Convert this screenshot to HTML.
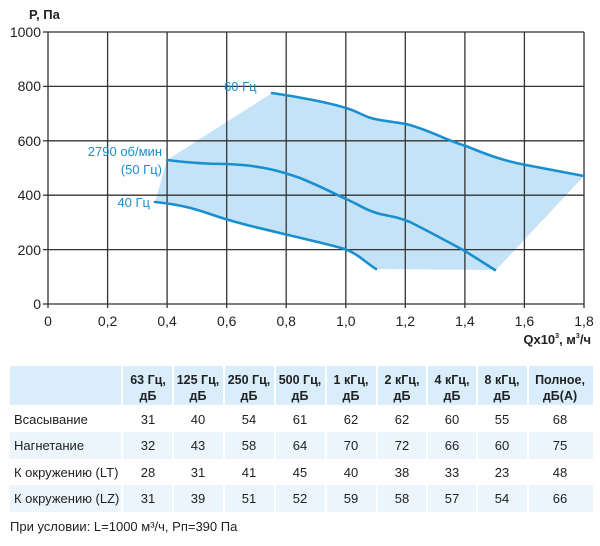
<!DOCTYPE html>
<html><head><meta charset="utf-8"><style>
html,body{margin:0;padding:0;background:#fff;width:600px;height:546px;overflow:hidden}
svg{display:block;font-family:"Liberation Sans",Arial,sans-serif}
</style></head><body>
<svg width="600" height="546" viewBox="0 0 600 546">
<path d="M155,202 L167,160 L272,93 C300,97 330,103 346,108 C360,112 365,118 380,120 L406,124 C430,130 445,140 466,146 C490,156 505,161 526,165 L584,176 L496,270 L376,269 C365,260 355,252 345,249 C320,242 300,238 280,233 C250,226 230,221 210,214 C190,207 175,204 155,202 Z" fill="#c4e3f7"/>
<g stroke="#333" stroke-width="1.3">
<line x1="48" y1="32" x2="584" y2="32"/><line x1="48" y1="86.4" x2="584" y2="86.4"/><line x1="48" y1="140.8" x2="584" y2="140.8"/><line x1="48" y1="195.2" x2="584" y2="195.2"/><line x1="48" y1="249.6" x2="584" y2="249.6"/><line x1="48" y1="304" x2="584" y2="304"/>
<line x1="48" y1="32" x2="48" y2="308"/><line x1="107.6" y1="32" x2="107.6" y2="308"/><line x1="167.1" y1="32" x2="167.1" y2="308"/><line x1="226.7" y1="32" x2="226.7" y2="308"/><line x1="286.2" y1="32" x2="286.2" y2="308"/><line x1="345.8" y1="32" x2="345.8" y2="308"/><line x1="405.3" y1="32" x2="405.3" y2="308"/><line x1="464.9" y1="32" x2="464.9" y2="308"/><line x1="524.4" y1="32" x2="524.4" y2="308"/><line x1="584" y1="32" x2="584" y2="308"/>
<line x1="43" y1="32" x2="48" y2="32"/><line x1="43" y1="86.4" x2="48" y2="86.4"/><line x1="43" y1="140.8" x2="48" y2="140.8"/><line x1="43" y1="195.2" x2="48" y2="195.2"/><line x1="43" y1="249.6" x2="48" y2="249.6"/><line x1="43" y1="304" x2="48" y2="304"/>
</g>
<g fill="none" stroke="#1a8fcf" stroke-width="2.6" stroke-linecap="round">
<path d="M272,93 C300,97 330,103 346,108 C360,112 365,118 380,120 L406,124 C430,130 445,140 466,146 C490,156 505,161 526,165 L584,176"/>
<path d="M167,160 C190,163 205,164 226,164 C260,165 280,171 300,178 C320,186 335,194 346,199 C360,205 365,210 380,214 C395,217 400,218 410,222 C430,232 450,243 465,251 L495,270"/>
<path d="M155,202 C175,204 190,207 210,214 C230,221 250,226 280,233 C300,238 320,242 345,249 C358,254 365,262 376,269"/>
</g>
<g fill="#1a8fcf" font-size="13">
<text x="224" y="91">60 Гц</text>
<text x="162" y="156" text-anchor="end">2790 об/мин</text>
<text x="162" y="174" text-anchor="end">(50 Гц)</text>
<text x="150" y="207" text-anchor="end">40 Гц</text>
</g>
<g fill="#222" font-size="14" text-anchor="end">
<text x="41" y="37">1000</text><text x="41" y="91">800</text><text x="41" y="146">600</text><text x="41" y="200">400</text><text x="41" y="255">200</text><text x="41" y="309">0</text>
</g>
<g fill="#222" font-size="14" text-anchor="middle">
<text x="48" y="326">0</text><text x="107.6" y="326">0,2</text><text x="167.1" y="326">0,4</text><text x="226.7" y="326">0,6</text><text x="286.2" y="326">0,8</text><text x="345.8" y="326">1,0</text><text x="405.3" y="326">1,2</text><text x="464.9" y="326">1,4</text><text x="524.4" y="326">1,6</text><text x="584" y="326">1,8</text>
</g>
<text x="29" y="19" font-size="13" font-weight="bold" fill="#222">P, Па</text>
<text x="591" y="344" font-size="13" font-weight="bold" fill="#222" text-anchor="end">Qx10<tspan font-size="7" dy="-6">3</tspan><tspan dy="6">, м</tspan><tspan font-size="7" dy="-6">3</tspan><tspan dy="6">/ч</tspan></text>
<rect x="10" y="366" width="583" height="40" fill="#d9edfa"/>
<rect x="10" y="432" width="583" height="27" fill="#eaf5fc"/>
<rect x="10" y="485" width="583" height="27" fill="#eaf5fc"/>
<g stroke="#fff" stroke-width="2">
<line x1="122" y1="366" x2="122" y2="512"/><line x1="173" y1="366" x2="173" y2="512"/><line x1="224" y1="366" x2="224" y2="512"/><line x1="275" y1="366" x2="275" y2="512"/><line x1="326" y1="366" x2="326" y2="512"/><line x1="377" y1="366" x2="377" y2="512"/><line x1="427" y1="366" x2="427" y2="512"/><line x1="477" y1="366" x2="477" y2="512"/><line x1="528" y1="366" x2="528" y2="512"/>
<line x1="10" y1="406" x2="593" y2="406"/>
</g>
<g fill="#222" font-size="12.5" font-weight="bold" text-anchor="middle">
<text x="148" y="384">63 Гц,</text><text x="148" y="400">дБ</text>
<text x="198" y="384">125 Гц,</text><text x="198" y="400">дБ</text>
<text x="249" y="384">250 Гц,</text><text x="249" y="400">дБ</text>
<text x="300" y="384">500 Гц,</text><text x="300" y="400">дБ</text>
<text x="351" y="384">1 кГц,</text><text x="351" y="400">дБ</text>
<text x="402" y="384">2 кГц,</text><text x="402" y="400">дБ</text>
<text x="452" y="384">4 кГц,</text><text x="452" y="400">дБ</text>
<text x="502" y="384">8 кГц,</text><text x="502" y="400">дБ</text>
<text x="560" y="384">Полное,</text><text x="560" y="400">дБ(А)</text>
</g>
<g fill="#222" font-size="13">
<text x="14" y="424">Всасывание</text>
<text x="14" y="450">Нагнетание</text>
<text x="14" y="477">К окружению (LT)</text>
<text x="14" y="503">К окружению (LZ)</text>
<text x="10" y="531">При условии: L=1000 м³/ч, Pп=390 Па</text>
</g>
<g fill="#222" font-size="13" text-anchor="middle">
<text x="148" y="424">31</text><text x="198" y="424">40</text><text x="249" y="424">54</text><text x="300" y="424">61</text><text x="351" y="424">62</text><text x="402" y="424">62</text><text x="452" y="424">60</text><text x="502" y="424">55</text><text x="560" y="424">68</text>
<text x="148" y="450">32</text><text x="198" y="450">43</text><text x="249" y="450">58</text><text x="300" y="450">64</text><text x="351" y="450">70</text><text x="402" y="450">72</text><text x="452" y="450">66</text><text x="502" y="450">60</text><text x="560" y="450">75</text>
<text x="148" y="477">28</text><text x="198" y="477">31</text><text x="249" y="477">41</text><text x="300" y="477">45</text><text x="351" y="477">40</text><text x="402" y="477">38</text><text x="452" y="477">33</text><text x="502" y="477">23</text><text x="560" y="477">48</text>
<text x="148" y="503">31</text><text x="198" y="503">39</text><text x="249" y="503">51</text><text x="300" y="503">52</text><text x="351" y="503">59</text><text x="402" y="503">58</text><text x="452" y="503">57</text><text x="502" y="503">54</text><text x="560" y="503">66</text>
</g>
</svg>
</body></html>
